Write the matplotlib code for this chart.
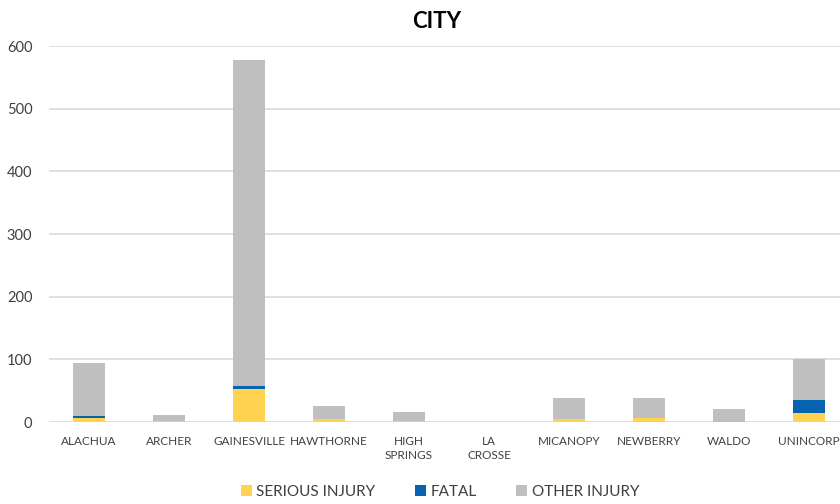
import matplotlib
matplotlib.use("Agg")
import matplotlib.pyplot as plt
import numpy as np

plt.rcParams['font.family'] = ['Lato', 'DejaVu Sans']

# values
cities = ['ALACHUA', 'ARCHER', 'GAINESVILLE', 'HAWTHORNE', 'HIGH\nSPRINGS',
          'LA\nCROSSE', 'MICANOPY', 'NEWBERRY', 'WALDO', 'UNINCORP']
serious = [7, 2, 52, 4, 1, 0, 4, 6, 0, 14]
fatal = [3, 0, 5, 0, 0, 0, 0, 0, 0, 21]
other = [84, 9, 521, 21, 15, 0, 35, 32, 20, 65]

yellow = '#FFD34F'
blue = '#0563B0'
grey = '#BFBFBF'

fig = plt.figure(figsize=(8.4, 5.04), dpi=100)
ax = fig.add_axes([49 / 840, 82 / 504, 800 / 840, 376 / 504])

x = np.arange(len(cities))
w = 0.4
s = np.array(serious)
f = np.array(fatal)
o = np.array(other)
ax.bar(x, s, w, color=yellow, label='SERIOUS INJURY', zorder=3)
ax.bar(x, f, w, bottom=s, color=blue, label='FATAL', zorder=3)
ax.bar(x, o, w, bottom=s + f, color=grey, label='OTHER INJURY', zorder=3)

ax.set_xlim(-0.5, len(cities) - 0.5)
ax.set_ylim(0, 600)
ax.set_yticks(range(0, 601, 100))
ax.yaxis.grid(True, color='#D9D9D9', linewidth=1.2, zorder=0)
for sp in ax.spines.values():
    sp.set_visible(False)
ax.tick_params(axis='both', length=0)
ax.tick_params(axis='y', labelsize=10.5, labelcolor='#404040', pad=12)
ax.set_xticks(x)
ax.set_xticklabels(cities, fontsize=8.5, color='#404040', linespacing=1.3)
ax.tick_params(axis='x', pad=10)

fig.text(437 / 840, 1 - 22 / 504, 'CITY', ha='center', va='center',
         fontsize=16, fontweight='bold', color='black')

fig.legend(loc='center', bbox_to_anchor=(440 / 840, 1 - 492 / 504), ncol=3,
           frameon=False, fontsize=11, handlelength=0.7, handleheight=0.7,
           handletextpad=0.3, columnspacing=2.6, labelcolor='#404040')

fig.savefig('out.png', dpi=100)
